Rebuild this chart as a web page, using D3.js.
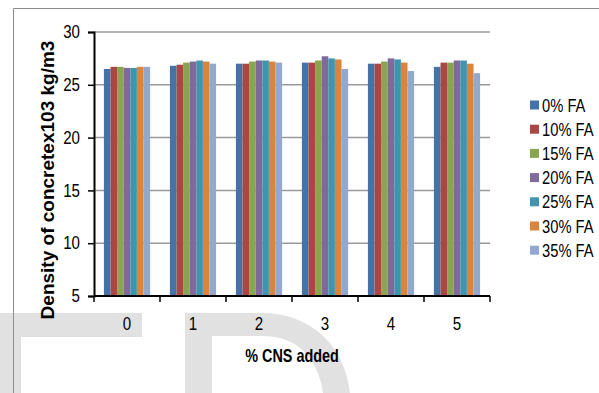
<!DOCTYPE html>
<html>
<head>
<meta charset="utf-8">
<script src="https://cdn.jsdelivr.net/npm/d3@7/dist/d3.min.js"></script>
<style>
  html, body { margin: 0; padding: 0; background: #fff; }
  svg { display: block; }
  text { font-family: "Liberation Sans", Arial, sans-serif; fill: #000; }
</style>
</head>
<body>
<svg id="chart" width="599" height="393"></svg>
<script>
// Concrete density (x10^3 kg/m3) by % CNS added, one series per fly-ash level
const categories = ["0", "1", "2", "3", "4", "5"];
const seriesNames = ["0% FA", "10% FA", "15% FA", "20% FA", "25% FA", "30% FA", "35% FA"];
const fa0  = [26.5, 26.8, 27.0, 27.1, 27.0, 26.7];
const fa10 = [26.7, 26.9, 27.0, 27.1, 27.0, 27.1];
const fa15 = [26.7, 27.1, 27.2, 27.3, 27.2, 27.1];
const fa20 = [26.6, 27.2, 27.3, 27.7, 27.5, 27.3];
const fa25 = [26.6, 27.3, 27.3, 27.5, 27.4, 27.3];
const fa30 = [26.7, 27.2, 27.2, 27.4, 27.1, 27.0];
const fa35 = [26.7, 27.0, 27.1, 26.5, 26.3, 26.1];
const yTicks = [5, 10, 15, 20, 25, 30];
const colors = ["#4572A7", "#AA4643", "#89A54E", "#80699B", "#3D96AE", "#DB843D", "#92A8CD"];

const seriesValues = [fa0, fa10, fa15, fa20, fa25, fa30, fa35];

const svg = d3.select("#chart");
const wm = "#e1e1e1";
const narrow = 0.84; // horizontal squeeze for a condensed look

// background watermark shapes
svg.append("rect").attr("x", 0).attr("y", 313).attr("width", 142).attr("height", 24).attr("fill", wm);
svg.append("rect").attr("x", 0).attr("y", 337).attr("width", 21).attr("height", 56).attr("fill", wm);
svg.append("path")
  .attr("fill", wm)
  .attr("d", "M185,313 L262,313 C310,313 345,345 350,393 L323,393 C318,358 298,336 262,336 L212,336 L212,393 L185,393 Z");

// chart border
svg.append("path")
  .attr("d", "M13.5,393 L13.5,8.5 L599,8.5")
  .attr("fill", "none").attr("stroke", "#8c8c8c").attr("stroke-width", 1);

const plot = { left: 94, right: 490, top: 32, bottom: 296 };

const x0 = d3.scaleBand().domain(categories).range([plot.left, plot.right])
  .paddingInner(0.3).paddingOuter(0.15);
const x1 = d3.scaleBand().domain(d3.range(seriesNames.length)).range([0, x0.bandwidth()]);
const y = d3.scaleLinear().domain([5, 30]).range([plot.bottom, plot.top]);

// gridlines
svg.append("g").selectAll("line").data(yTicks.filter(d => d !== 5)).join("line")
  .attr("x1", plot.left).attr("x2", plot.right)
  .attr("y1", d => y(d)).attr("y2", d => y(d))
  .attr("stroke", "#9a9a9a").attr("stroke-width", 1.5);

// bars
const groups = svg.append("g").selectAll("g").data(categories).join("g")
  .attr("transform", d => `translate(${x0(d)},0)`);
groups.selectAll("rect")
  .data((c, ci) => seriesValues.map((vals, si) => ({ si, v: vals[ci] })))
  .join("rect")
  .attr("x", d => x1(d.si))
  .attr("width", x1.bandwidth())
  .attr("y", d => y(d.v))
  .attr("height", d => y(5) - y(d.v))
  .attr("fill", d => colors[d.si]);

// y axis
const yAxis = svg.append("g").attr("transform", `translate(${plot.left},0)`)
  .call(d3.axisLeft(y).tickValues(yTicks).tickSize(6).tickPadding(8).tickFormat(d3.format("d")));
yAxis.select(".domain").attr("stroke", "#000").attr("stroke-width", 2);
yAxis.selectAll(".tick line").attr("stroke", "#000").attr("stroke-width", 1.5);
yAxis.selectAll("text").attr("font-size", 18)
  .attr("font-family", "'Liberation Sans', Arial, sans-serif")
  .attr("transform", `translate(-14,0) scale(${narrow},1) translate(14,0)`);

// x axis with ticks at category boundaries
const xAxisG = svg.append("g").attr("transform", `translate(0,${plot.bottom})`);
xAxisG.append("line").attr("x1", plot.left).attr("x2", plot.right).attr("y1", 0).attr("y2", 0)
  .attr("stroke", "#000").attr("stroke-width", 2);
const step = x0.step();
xAxisG.selectAll("line.tk").data(d3.range(categories.length + 1)).join("line")
  .attr("class", "tk")
  .attr("x1", i => plot.left + i * step).attr("x2", i => plot.left + i * step)
  .attr("y1", 0).attr("y2", 6).attr("stroke", "#000").attr("stroke-width", 1.5);
xAxisG.selectAll("text").data(categories).join("text")
  .attr("transform", d => `translate(${x0(d) + x0.bandwidth() / 2},34) scale(${narrow},1)`)
  .attr("text-anchor", "middle")
  .attr("font-size", 18)
  .text(d => d);

// axis titles
svg.append("text")
  .attr("transform", "translate(54,180) rotate(-90)")
  .attr("text-anchor", "middle")
  .attr("font-size", 19).attr("font-weight", "bold")
  .text("Density of concretex103 kg/m3");
svg.append("text")
  .attr("transform", "translate(292,362) scale(0.8,1)")
  .attr("text-anchor", "middle")
  .attr("font-size", 18).attr("font-weight", "bold")
  .text("% CNS added");

// legend
const legend = svg.append("g").selectAll("g").data(seriesNames).join("g")
  .attr("transform", (d, i) => `translate(530,${105 + i * 24.2})`);
legend.append("rect").attr("x", 0).attr("y", -4.5).attr("width", 9).attr("height", 9)
  .attr("fill", (d, i) => colors[i]);
legend.append("text")
  .attr("transform", `translate(12,6.5) scale(0.82,1)`)
  .attr("font-size", 18).text(d => d);
</script>
</body>
</html>
